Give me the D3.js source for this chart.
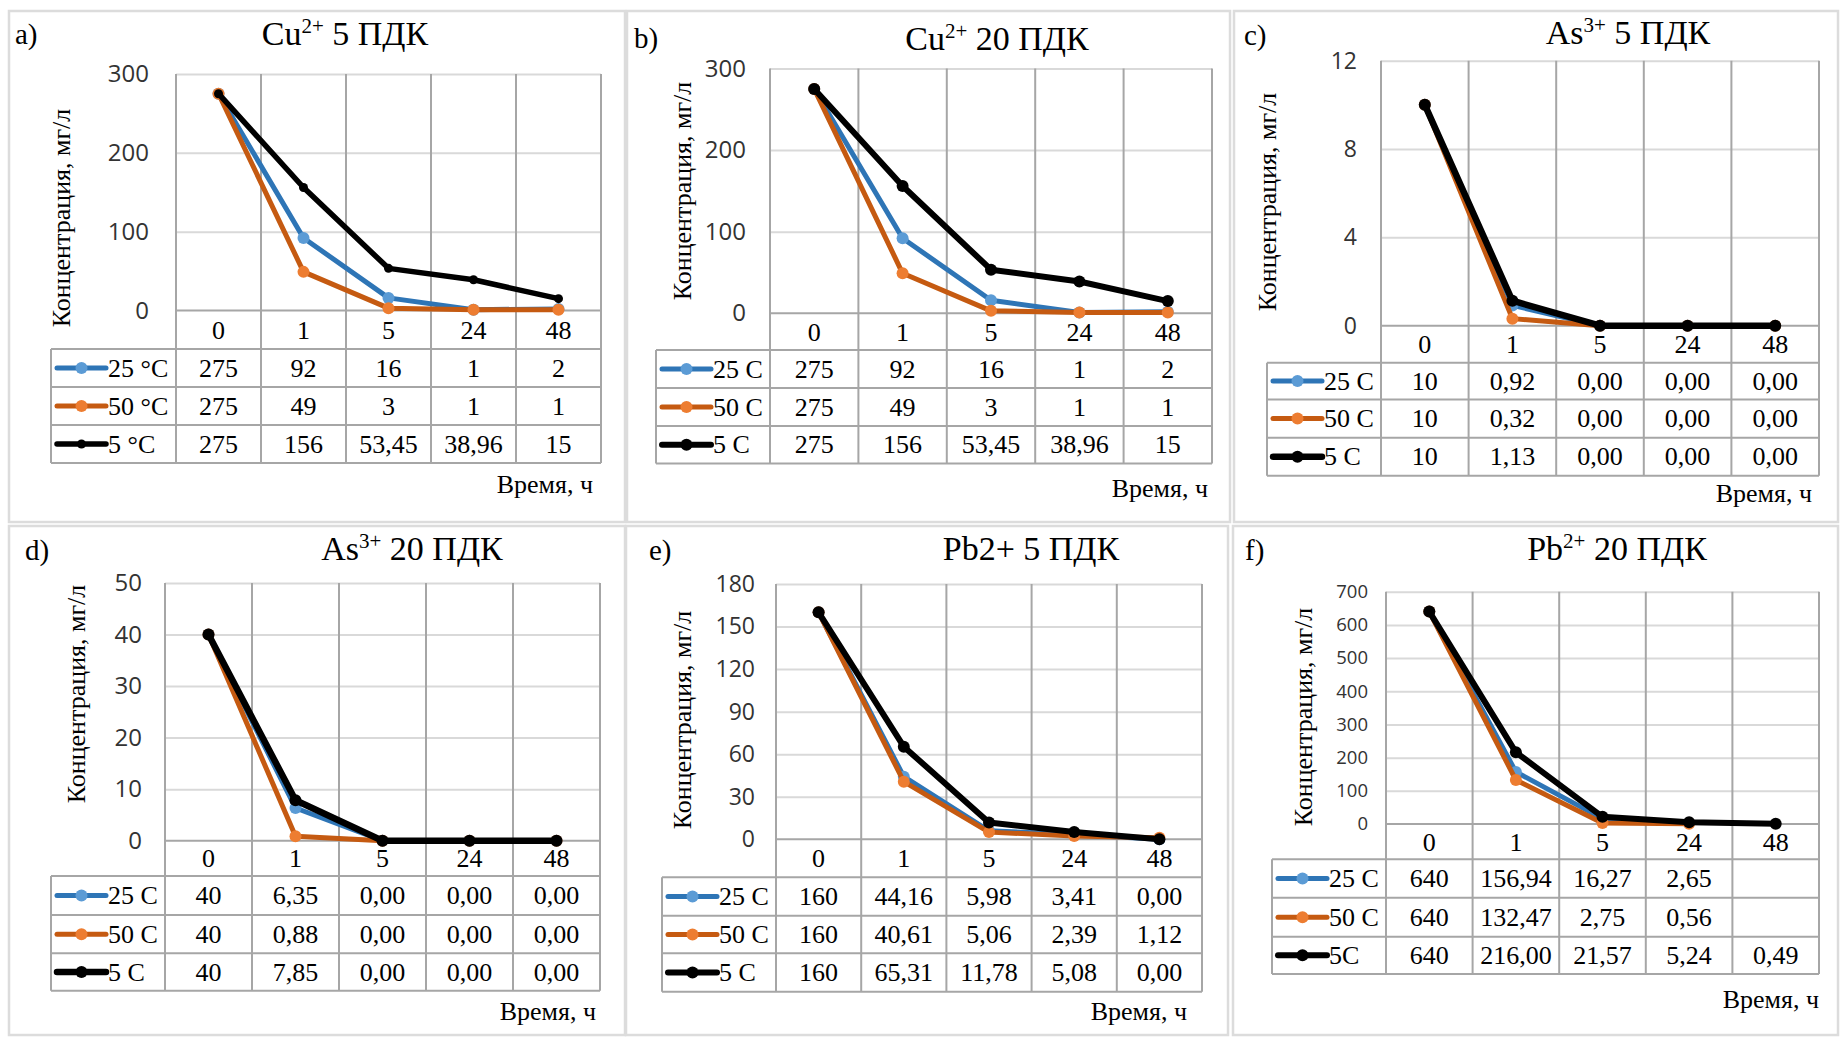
<!DOCTYPE html>
<html>
<head>
<meta charset="utf-8">
<script src="https://cdn.jsdelivr.net/npm/d3@7"></script>
<style>
  html, body { margin: 0; padding: 0; background: #fff; }
  svg { display: block; }
</style>
</head>
<body>
<svg id="chart" width="1841" height="1038"></svg>
<script>
// Sampling times, h
const hours = ["0", "1", "5", "24", "48"];

// Cu2+ 5 ПДК, mg/l
const cu5_t25 = [275, 92, 16, 1, 2];
const cu5_t50 = [275, 49, 3, 1, 1];
const cu5_t5  = [275, 156, 53.45, 38.96, 15];
// Cu2+ 20 ПДК
const cu20_t25 = [275, 92, 16, 1, 2];
const cu20_t50 = [275, 49, 3, 1, 1];
const cu20_t5  = [275, 156, 53.45, 38.96, 15];
// As3+ 5 ПДК
const as5_t25 = [10, 0.92, 0, 0, 0];
const as5_t50 = [10, 0.32, 0, 0, 0];
const as5_t5  = [10, 1.13, 0, 0, 0];
// As3+ 20 ПДК
const as20_t25 = [40, 6.35, 0, 0, 0];
const as20_t50 = [40, 0.88, 0, 0, 0];
const as20_t5  = [40, 7.85, 0, 0, 0];
// Pb2+ 5 ПДК
const pb5_t25 = [160, 44.16, 5.98, 3.41, 0];
const pb5_t50 = [160, 40.61, 5.06, 2.39, 1.12];
const pb5_t5  = [160, 65.31, 11.78, 5.08, 0];
// Pb2+ 20 ПДК (no 48 h reading at 25 and 50 °C)
const pb20_t25 = [640, 156.94, 16.27, 2.65, null];
const pb20_t50 = [640, 132.47, 2.75, 0.56, null];
const pb20_t5  = [640, 216.00, 21.57, 5.24, 0.49];

// Y axis tick labels
const cuTicks   = [0, 100, 200, 300];
const as5Ticks  = [0, 4, 8, 12];
const as20Ticks = [0, 10, 20, 30, 40, 50];
const pb5Ticks  = [0, 30, 60, 90, 120, 150, 180];
const pb20Ticks = [0, 100, 200, 300, 400, 500, 600, 700];

// Series names in the data tables
const namesDeg  = ["25 °C", "50 °C", "5 °C"];
const namesC    = ["25 C", "50 C", "5 C"];
const namesPb20 = ["25 C", "50 C", "5C"];

// ---- presentation ----
const serif = "'Liberation Serif', 'Times New Roman', serif";
const sans  = "'Open Sans', 'Segoe UI', sans-serif";
const gridColor = "#d9d9d9";
const ruleColor = "#a6a6a6";
const textSize = 26;
const seriesStyle = [
  { line: "#2e75b6", fill: "#5b9bd5" },
  { line: "#c55a11", fill: "#ed7d31" },
  { line: "#000000", fill: "#000000" }
];
const colorW = 5, colorR = 6;

// number formats used in the tables
const fmtGeneral = v => v == null ? "" : String(v).replace(".", ",");
const fmtFixed = (v, i) => v == null ? "" : (i === 0 ? String(v) : v.toFixed(2).replace(".", ","));

const panels = [
  { tag: "a)", tagX: 15, tagY: 44, title: [["Cu"], ["2+", 1], [" 5 ПДК"]], titleX: 345, titleY: 45,
    series: [cu5_t25, cu5_t50, cu5_t5], names: namesDeg, ticks: cuTicks, fmt: fmtGeneral,
    left: 176, right: 601, top: 74, zero: 310.5, tableLeft: 51, rows: [349, 387, 425, 463],
    tickFont: 24, tickPad: 27, yTitleX: 70, yTitleY: 218, xTitleX: 593, xTitleY: 493,
    blackR: 4.5, blackW: 5.5 },
  { tag: "b)", tagX: 634, tagY: 48, title: [["Cu"], ["2+", 1], [" 20 ПДК"]], titleX: 997, titleY: 50,
    series: [cu20_t25, cu20_t50, cu20_t5], names: namesC, ticks: cuTicks, fmt: fmtGeneral,
    left: 770, right: 1212, top: 68.5, zero: 313.3, tableLeft: 656, rows: [350, 388, 426, 463.5],
    tickFont: 24, tickPad: 24, yTitleX: 691, yTitleY: 191, xTitleX: 1208, xTitleY: 497,
    blackR: 6, blackW: 6 },
  { tag: "c)", tagX: 1244, tagY: 45, title: [["As"], ["3+", 1], [" 5 ПДК"]], titleX: 1628, titleY: 44,
    series: [as5_t25, as5_t50, as5_t5], names: namesC, ticks: as5Ticks, fmt: fmtFixed,
    left: 1381, right: 1819, top: 60.7, zero: 325.7, tableLeft: 1267, rows: [362.7, 399.5, 437.7, 475.7],
    tickFont: 23, tickPad: 24, yTitleX: 1276, yTitleY: 202, xTitleX: 1812, xTitleY: 502,
    blackR: 6, blackW: 6.5 },
  { tag: "d)", tagX: 25, tagY: 560, title: [["As"], ["3+", 1], [" 20 ПДК"]], titleX: 412, titleY: 560,
    series: [as20_t25, as20_t50, as20_t5], names: namesC, ticks: as20Ticks, fmt: fmtFixed,
    left: 165, right: 600, top: 583, zero: 840.7, tableLeft: 51, rows: [876, 915, 953.3, 990.7],
    tickFont: 24, tickPad: 23, yTitleX: 85, yTitleY: 694, xTitleX: 596, xTitleY: 1020,
    blackR: 6, blackW: 6.5 },
  { tag: "e)", tagX: 649, tagY: 560, title: [["Pb2+ 5 ПДК"]], titleX: 1031, titleY: 560,
    series: [pb5_t25, pb5_t50, pb5_t5], names: namesC, ticks: pb5Ticks, fmt: fmtFixed,
    left: 776, right: 1202, top: 584, zero: 839.3, tableLeft: 662, rows: [877.3, 915.7, 953.3, 991.7],
    tickFont: 23, tickPad: 21, yTitleX: 691, yTitleY: 720, xTitleX: 1187, xTitleY: 1020,
    blackR: 6, blackW: 6 },
  { tag: "f)", tagX: 1245, tagY: 560, title: [["Pb"], ["2+", 1], [" 20 ПДК"]], titleX: 1617, titleY: 560,
    series: [pb20_t25, pb20_t50, pb20_t5], names: namesPb20, ticks: pb20Ticks, fmt: fmtFixed,
    left: 1386, right: 1819, top: 591.7, zero: 824, tableLeft: 1272, rows: [859.3, 897.7, 936.7, 974],
    tickFont: 18.5, tickPad: 18, yTitleX: 1312, yTitleY: 717, xTitleX: 1819, xTitleY: 1008,
    blackR: 6, blackW: 6 }
];

// chart frames
const frames = [
  [9, 11, 616, 511], [627, 11, 603, 511], [1234, 11, 604, 511],
  [9, 526, 616, 509], [626, 526, 602, 509], [1233, 526, 605, 509]
];

const svg = d3.select("#chart");

svg.append("g").selectAll("rect").data(frames).join("rect")
  .attr("x", d => d[0]).attr("y", d => d[1])
  .attr("width", d => d[2]).attr("height", d => d[3])
  .attr("fill", "none").attr("stroke", "#dcdcdc").attr("stroke-width", 2.5);

panels.forEach(p => {
  const g = svg.append("g");
  const x = d3.scaleBand().domain(hours).range([p.left, p.right]);
  const bw = x.bandwidth();
  const y = d3.scaleLinear().domain([0, d3.max(p.ticks)]).range([p.zero, p.top]);
  const [r0, , , r3] = p.rows;

  // horizontal gridlines
  g.append("g")
    .attr("transform", `translate(${p.left},0)`)
    .call(d3.axisLeft(y).tickValues(p.ticks.slice(1)).tickSize(-(p.right - p.left)).tickFormat(""))
    .call(s => s.select(".domain").remove())
    .selectAll("line").attr("stroke", gridColor).attr("stroke-width", 2);

  // y tick labels
  g.append("g")
    .attr("transform", `translate(${p.left},0)`)
    .call(d3.axisLeft(y).tickValues(p.ticks).tickSize(0).tickPadding(p.tickPad))
    .call(s => s.select(".domain").remove())
    .selectAll("text")
    .attr("font-family", sans).attr("font-size", p.tickFont).attr("fill", "#333");

  // vertical category dividers running through the data table
  const edges = d3.range(hours.length + 1).map(i => p.left + i * x.step());
  g.append("g").selectAll("line").data(edges).join("line")
    .attr("x1", d => d).attr("x2", d => d)
    .attr("y1", p.top).attr("y2", r3)
    .attr("stroke", ruleColor).attr("stroke-width", 2);

  // table rules
  g.append("line").attr("x1", p.left).attr("x2", p.right).attr("y1", p.zero).attr("y2", p.zero)
    .attr("stroke", ruleColor).attr("stroke-width", 2);
  g.append("g").selectAll("line").data(p.rows).join("line")
    .attr("x1", p.tableLeft).attr("x2", p.right)
    .attr("y1", d => d).attr("y2", d => d)
    .attr("stroke", ruleColor).attr("stroke-width", 2);
  g.append("line").attr("x1", p.tableLeft).attr("x2", p.tableLeft).attr("y1", r0).attr("y2", r3)
    .attr("stroke", ruleColor).attr("stroke-width", 2);

  // category labels
  g.append("g").selectAll("text").data(hours).join("text")
    .attr("x", d => x(d) + bw / 2).attr("y", (p.zero + r0) / 2 + 9)
    .attr("text-anchor", "middle")
    .attr("font-family", serif).attr("font-size", textSize).attr("fill", "#000")
    .text(d => d);

  // table rows: legend key + values
  p.series.forEach((vals, k) => {
    const st = seriesStyle[k];
    const yc = (p.rows[k] + p.rows[k + 1]) / 2;
    const r = k === 2 ? p.blackR : colorR;
    const w = k === 2 ? p.blackW : colorW;
    g.append("line")
      .attr("x1", p.tableLeft + 6).attr("x2", p.tableLeft + 55)
      .attr("y1", yc).attr("y2", yc)
      .attr("stroke", st.line).attr("stroke-width", w).attr("stroke-linecap", "round");
    g.append("circle").attr("cx", p.tableLeft + 30.5).attr("cy", yc).attr("r", r).attr("fill", st.fill);
    g.append("text")
      .attr("x", p.tableLeft + 57).attr("y", yc + 8.5)
      .attr("font-family", serif).attr("font-size", textSize).attr("fill", "#000")
      .text(p.names[k]);
    g.append("g").selectAll("text").data(vals).join("text")
      .attr("x", (d, i) => x(hours[i]) + bw / 2).attr("y", yc + 8.5)
      .attr("text-anchor", "middle")
      .attr("font-family", serif).attr("font-size", textSize).attr("fill", "#000")
      .text((d, i) => p.fmt(d, i));
  });

  // series lines and markers
  p.series.forEach((vals, k) => {
    const st = seriesStyle[k];
    const pts = vals.map((v, i) => ({ h: hours[i], v }));
    const line = d3.line().defined(d => d.v != null)
      .x(d => x(d.h) + bw / 2).y(d => y(d.v));
    g.append("path").datum(pts).attr("d", line)
      .attr("fill", "none").attr("stroke", st.line)
      .attr("stroke-width", k === 2 ? p.blackW : colorW)
      .attr("stroke-linejoin", "round").attr("stroke-linecap", "round");
    g.append("g").selectAll("circle").data(pts.filter(d => d.v != null)).join("circle")
      .attr("cx", d => x(d.h) + bw / 2).attr("cy", d => y(d.v))
      .attr("r", k === 2 ? p.blackR : colorR).attr("fill", st.fill);
  });

  // titles
  const t = g.append("text").attr("x", p.titleX).attr("y", p.titleY)
    .attr("text-anchor", "middle").attr("font-family", serif).attr("font-size", 34).attr("fill", "#000");
  let raised = false;
  p.title.forEach(([txt, sup]) => {
    const ts = t.append("tspan").text(txt);
    if (sup) { ts.attr("font-size", 21).attr("dy", -12); raised = true; }
    else if (raised) { ts.attr("dy", 12); raised = false; }
  });

  g.append("text").attr("x", p.tagX).attr("y", p.tagY)
    .attr("font-family", serif).attr("font-size", 29).attr("fill", "#000").text(p.tag);

  g.append("text")
    .attr("transform", `translate(${p.yTitleX},${p.yTitleY}) rotate(-90)`)
    .attr("text-anchor", "middle")
    .attr("font-family", serif).attr("font-size", textSize).attr("fill", "#000")
    .text("Концентрация, мг/л");

  g.append("text").attr("x", p.xTitleX).attr("y", p.xTitleY)
    .attr("text-anchor", "end")
    .attr("font-family", serif).attr("font-size", textSize).attr("fill", "#000")
    .text("Время, ч");
});
</script>
</body>
</html>
